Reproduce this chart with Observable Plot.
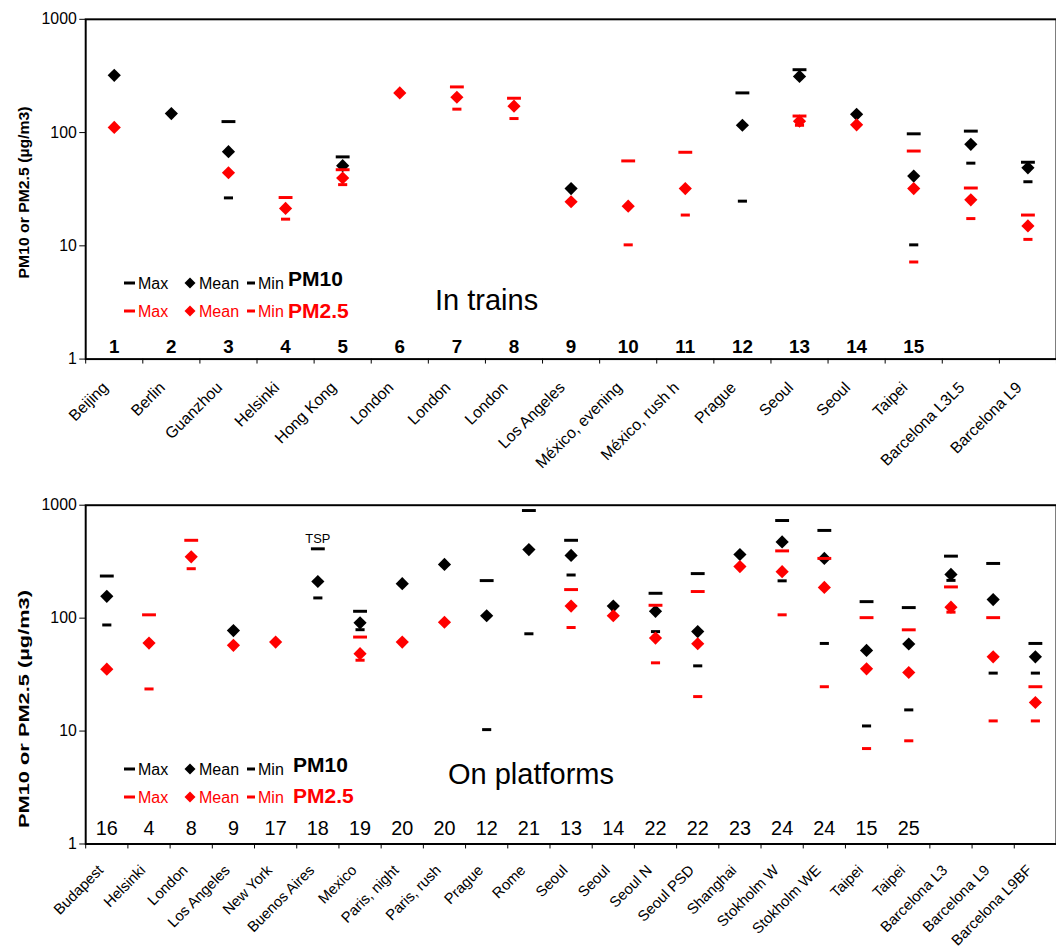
<!DOCTYPE html>
<html><head><meta charset="utf-8">
<script src="https://cdn.jsdelivr.net/npm/d3@7"></script>
<script src="https://cdn.jsdelivr.net/npm/@observablehq/plot@0.6"></script>
<style>
html,body{margin:0;padding:0;background:#fff;overflow:hidden;}
#wrap{position:relative;width:1056px;height:952px;overflow:hidden;font-family:"Liberation Sans",Arial,sans-serif;}
#wrap svg{display:block;}
.panel{position:absolute;left:0;width:1056px;overflow:hidden;}
.overlay{position:absolute;left:0;top:0;pointer-events:none;}
</style></head><body><div id="wrap"></div>
<script>
// ---------- In trains ----------
const trainCities = ["Beijing","Berlin","Guanzhou","Helsinki","Hong Kong","London","London","London","Los Angeles","México, evening","México, rush h","Prague","Seoul","Seoul","Taipei","Barcelona L3L5","Barcelona L9"];
const trainRefs = ["1","2","3","4","5","6","7","8","9","10","11","12","13","14","15","",""];
const trainPM10Max  = [null,null,125,null,61,null,null,null,null,null,null,224,359,null,97.5,103,54.7];
const trainPM10Mean = [320,147,67.8,null,51,null,null,null,32,null,null,116,313,145,41.3,78.7,48.8];
const trainPM10Min  = [null,null,26.5,null,null,null,null,null,null,null,null,24.8,null,null,10.2,53.7,36.8];
const trainPM25Max  = [null,null,null,26.7,47,null,253,201,null,56.2,67,null,140,null,68.7,32.4,18.7];
const trainPM25Mean = [111,null,44.2,21.4,39.7,224,205,171,24.5,22.4,32,null,126,117,32,25.5,15];
const trainPM25Min  = [null,null,null,17.2,34.7,null,161,133,null,10.2,18.7,null,116,null,7.2,17.4,11.4];
const trainNotes = trainCities.map(() => "");

// ---------- On platforms ----------
const platformCities = ["Budapest","Helsinki","London","Los Angeles","New York","Buenos Aires","Mexico","Paris, night","Paris, rush","Prague","Rome","Seoul","Seoul","Seoul N","Seoul PSD","Shanghai","Stokholm W","Stokholm WE","Taipei","Taipei","Barcelona L3","Barcelona L9","Barcelona L9BF"];
const platformRefs = ["16","4","8","9","17","18","19","20","20","12","21","13","14","22","22","23","24","24","15","25","","",""];
const platformPM10Max  = [236,null,null,null,null,411,115,null,null,215,897,489,null,166,248,null,732,598,140,124,354,305,59.7];
const platformPM10Mean = [156,null,null,77.6,null,211,90.8,202,299,105,405,359,128,115,76,366,473,338,51.8,59,244,146,45.4];
const platformPM10Min  = [87,null,null,null,null,151,79,null,null,10.3,72.7,241,null,76,37.8,null,214,59.7,11.1,15.4,216,32.6,32.6];
const platformPM25Max  = [null,107,489,null,null,null,68,null,null,null,null,179,null,130,172,null,394,338,101,78.8,189,101,24.7];
const platformPM25Mean = [35.3,60.2,349,57.4,61.4,null,48.5,61.4,92,null,null,128,105,66.6,59.3,286,258,187,35.6,33,125,45.4,17.9];
const platformPM25Min  = [null,23.6,274,null,null,null,42.4,null,null,null,null,82.6,null,40.2,20.2,null,107,24.7,7.0,8.2,113,12.3,12.3];
const platformNotes = ["","","","","","TSP","","","","","","","","","","","","","","","","",""];

const yTicks = [1, 10, 100, 1000];
const BLACK = "#000000", RED = "#ff0000";
const FONT = "'Liberation Sans', Arial, sans-serif";

const dashWide = {draw(ctx) { ctx.rect(-7, -1.5, 14, 3); }};
const dashNarrow = {draw(ctx) { ctx.rect(-4.6, -1.5, 9.2, 3); }};

function rows(values) {
  return values.map((v, i) => ({i, v})).filter(d => d.v != null);
}

function makePanel(cfg) {
  const n = cfg.cities.length;
  const idx = d3.range(n);
  const X = d => d.i + 0.5;
  const stat = (vals, symbol, color, r) =>
    Plot.dot(rows(vals), {x: X, y: "v", symbol, fill: color, stroke: "none", r});
  return Plot.plot({
    width: 1066,
    height: cfg.height,
    marginLeft: 86,
    marginRight: 0,
    marginTop: cfg.marginTop,
    marginBottom: cfg.marginBottom,
    x: {type: "linear", domain: [0, n]},
    y: {type: "log", domain: [1, 1000]},
    style: {fontFamily: FONT, background: "white", color: "black", overflow: "visible"},
    marks: [
      Plot.axisY({ticks: yTicks, tickFormat: d => String(d), tickSize: 6, tickPadding: 3, fontSize: 16, label: null}),
      Plot.axisX({ticks: d3.range(n + 1), tickFormat: () => "", tickSize: 5, label: null}),
      Plot.frame({stroke: "black", strokeWidth: 2}),
      Plot.text(idx, {x: i => i + 0.5, text: i => cfg.cities[i], frameAnchor: "bottom",
        rotate: -45, textAnchor: "end", lineAnchor: "middle", dx: cfg.labelDx, dy: cfg.labelDy, fontSize: cfg.labelSize}),
      Plot.text(idx, {x: i => i + 0.5, text: i => cfg.refs[i], frameAnchor: "bottom",
        lineAnchor: "bottom", dy: cfg.refDy, fontSize: cfg.refSize, fontWeight: cfg.refWeight}),
      Plot.text(rows(cfg.pm10Max.map((v, i) => cfg.notes[i] ? v : null)),
        {x: X, y: "v", text: d => cfg.notes[d.i], lineAnchor: "bottom", dy: -6, fontSize: 13}),
      stat(cfg.pm10Max, dashWide, BLACK),
      stat(cfg.pm10Min, dashNarrow, BLACK),
      stat(cfg.pm10Mean, "diamond2", BLACK, 6),
      stat(cfg.pm25Max, dashWide, RED),
      stat(cfg.pm25Min, dashNarrow, RED),
      stat(cfg.pm25Mean, "diamond2", RED, 6)
    ]
  });
}

function addOverlay(div, o) {
  const svg = d3.select(div).append("svg").attr("class", "overlay")
    .attr("width", 1056).attr("height", o.height)
    .style("font-family", FONT);
  svg.append("text")
    .attr("transform", `translate(23,${o.yTitleY}) rotate(-90)`)
    .attr("text-anchor", "middle").attr("dominant-baseline", "central")
    .attr("font-weight", "bold").attr("font-size", 15.5)
    .attr("textLength", o.yTitleLen).attr("lengthAdjust", "spacingAndGlyphs")
    .text("PM10 or PM2.5 (µg/m3)");
  svg.append("text").attr("x", o.titleX).attr("y", o.titleBase)
    .attr("font-size", 29).text(o.title);
  o.legend.forEach(row => {
    const g = svg.append("g").attr("fill", row.color);
    g.append("rect").attr("x", 124).attr("y", row.y - 1.5).attr("width", 11).attr("height", 3);
    g.append("text").attr("x", 138).attr("y", row.base).attr("font-size", 16).text("Max");
    g.append("path").attr("d", `M190,${row.y - 5.5}L195.5,${row.y}L190,${row.y + 5.5}L184.5,${row.y}Z`);
    g.append("text").attr("x", 199).attr("y", row.base).attr("font-size", 16).text("Mean");
    g.append("rect").attr("x", 247).attr("y", row.y - 1.5).attr("width", 8).attr("height", 3);
    g.append("text").attr("x", 258).attr("y", row.base).attr("font-size", 16).text("Min");
    g.append("text").attr("x", o.pmX).attr("y", row.pmBase).attr("font-size", 21)
      .attr("font-weight", "bold").text(row.label);
  });
}

const wrap = document.getElementById("wrap");

const top1 = document.createElement("div");
top1.className = "panel"; top1.style.top = "0px"; top1.style.height = "475px";
top1.appendChild(makePanel({
  cities: trainCities, refs: trainRefs, notes: trainNotes,
  pm10Max: trainPM10Max, pm10Mean: trainPM10Mean, pm10Min: trainPM10Min,
  pm25Max: trainPM25Max, pm25Mean: trainPM25Mean, pm25Min: trainPM25Min,
  height: 475, marginTop: 19, marginBottom: 113,
  labelSize: 16, labelDx: -9, labelDy: 26, refDy: -6, refSize: 19, refWeight: "bold"
}));
addOverlay(top1, {
  height: 475, yTitleY: 192.5, yTitleLen: 172,
  title: "In trains", titleX: 435, titleBase: 310, pmX: 288,
  legend: [
    {color: BLACK, y: 283, base: 288.5, pmBase: 286, label: "PM10"},
    {color: RED, y: 311, base: 316.5, pmBase: 318, label: "PM2.5"}
  ]
});
wrap.appendChild(top1);

const bot = document.createElement("div");
bot.className = "panel"; bot.style.top = "475px"; bot.style.height = "477px";
bot.appendChild(makePanel({
  cities: platformCities, refs: platformRefs, notes: platformNotes,
  pm10Max: platformPM10Max, pm10Mean: platformPM10Mean, pm10Min: platformPM10Min,
  pm25Max: platformPM25Max, pm25Mean: platformPM25Mean, pm25Min: platformPM25Min,
  height: 477, marginTop: 30, marginBottom: 105,
  labelSize: 15, labelDx: -6, labelDy: 24, refDy: -9, refSize: 20, refWeight: "normal"
}));
addOverlay(bot, {
  height: 477, yTitleY: 234, yTitleLen: 238,
  title: "On platforms", titleX: 448, titleBase: 309, pmX: 293,
  legend: [
    {color: BLACK, y: 294, base: 299.5, pmBase: 297, label: "PM10"},
    {color: RED, y: 322, base: 327.5, pmBase: 328, label: "PM2.5"}
  ]
});
wrap.appendChild(bot);
</script></body></html>
